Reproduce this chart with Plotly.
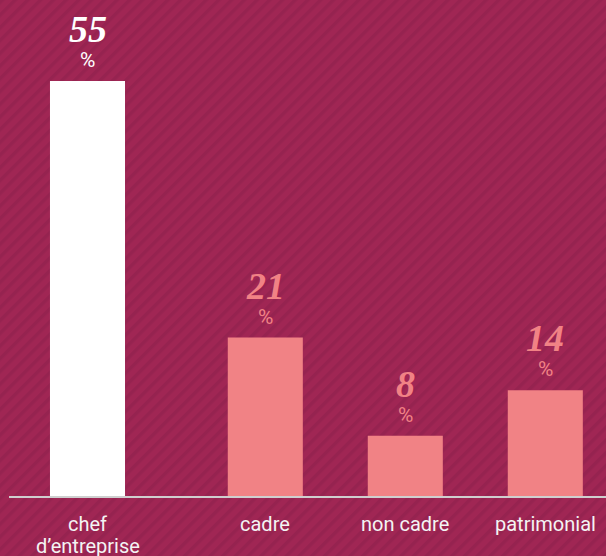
import base64
import plotly.graph_objects as go

# Data
categories = ["chef<br>d’entreprise", "cadre", "non cadre", "patrimonial"]
values = [55, 21, 8, 14]

# Styling
W, H = 606, 556
M_L, M_R, M_T, M_B = 9, 0, 10, 60
BG = "#a02654"
STRIPE = "#962350"
WHITE = "#ffffff"
PINK = "#f18285"
LABEL = "#f4f4f4"
bar_colors = [WHITE, PINK, PINK, PINK]

# Slot layout: wider gap after the first bar
FIRST_GAP = 0.27
slots = [i + (FIRST_GAP if i > 0 else 0) for i in range(len(categories))]

# Striped background as an inline SVG
svg = f"""<svg xmlns='http://www.w3.org/2000/svg' width='{W}' height='{H}' viewBox='0 0 {W} {H}'>
<defs><pattern id='s' width='9' height='9' patternUnits='userSpaceOnUse' patternTransform='rotate(45)'>
<rect width='9' height='9' fill='{BG}'/><rect width='3.5' height='9' fill='{STRIPE}'/></pattern></defs>
<rect width='{W}' height='{H}' fill='url(#s)'/></svg>"""
bg_uri = "data:image/svg+xml;base64," + base64.b64encode(svg.encode()).decode()

fig = go.Figure(
    go.Bar(
        x=slots,
        y=values,
        width=0.536,
        marker=dict(color=bar_colors, line=dict(width=0)),
        hoverinfo="skip",
    )
)

# Value labels: big italic number and a "%" below it
for xs, v, c in zip(slots, values, bar_colors):
    fig.add_annotation(
        x=xs, y=v, text=f"<b><i>{v}</i></b>", showarrow=False,
        yanchor="middle", yshift=52,
        font=dict(family="Liberation Serif", size=38, color=c),
    )
    fig.add_annotation(
        x=xs, y=v, text="%", showarrow=False,
        yanchor="middle", yshift=21,
        font=dict(family="Roboto", size=21, color=c),
    )

# Category labels under the axis, one line at a time (tight leading)
LINE_GAP = 21.5
for xs, cat in zip(slots, categories):
    for i, line in enumerate(cat.split("<br>")):
        fig.add_annotation(
            x=xs, xref="x", y=0, yref="paper", text=line, showarrow=False,
            yanchor="middle", yshift=-(28 + i * LINE_GAP),
            font=dict(family="Roboto", size=20, color=LABEL),
        )

plot_w = W - M_L - M_R
plot_h = H - M_T - M_B
px_per_unit = 140.0
y_px_per_unit = 415 / 55
x0 = -(87.5 - M_L) / px_per_unit

fig.update_layout(
    width=W, height=H,
    margin=dict(l=M_L, r=M_R, t=M_T, b=M_B),
    paper_bgcolor=BG,
    plot_bgcolor="rgba(0,0,0,0)",
    showlegend=False,
    images=[dict(
        source=bg_uri, xref="paper", yref="paper",
        x=-M_L / plot_w, y=1 + M_T / plot_h,
        sizex=W / plot_w, sizey=H / plot_h,
        sizing="stretch", xanchor="left", yanchor="top", layer="below",
    )],
    xaxis=dict(
        range=[x0, x0 + plot_w / px_per_unit],
        showticklabels=False, ticks="",
        showgrid=False, zeroline=False,
        showline=True, linecolor="#cfcfcf", linewidth=1.5,
        automargin=False,
        fixedrange=True,
    ),
    yaxis=dict(
        range=[0, plot_h / y_px_per_unit],
        visible=False, showgrid=False, zeroline=False,
        automargin=False,
        fixedrange=True,
    ),
)

fig.write_html("out.html", config={"displayModeBar": False})
